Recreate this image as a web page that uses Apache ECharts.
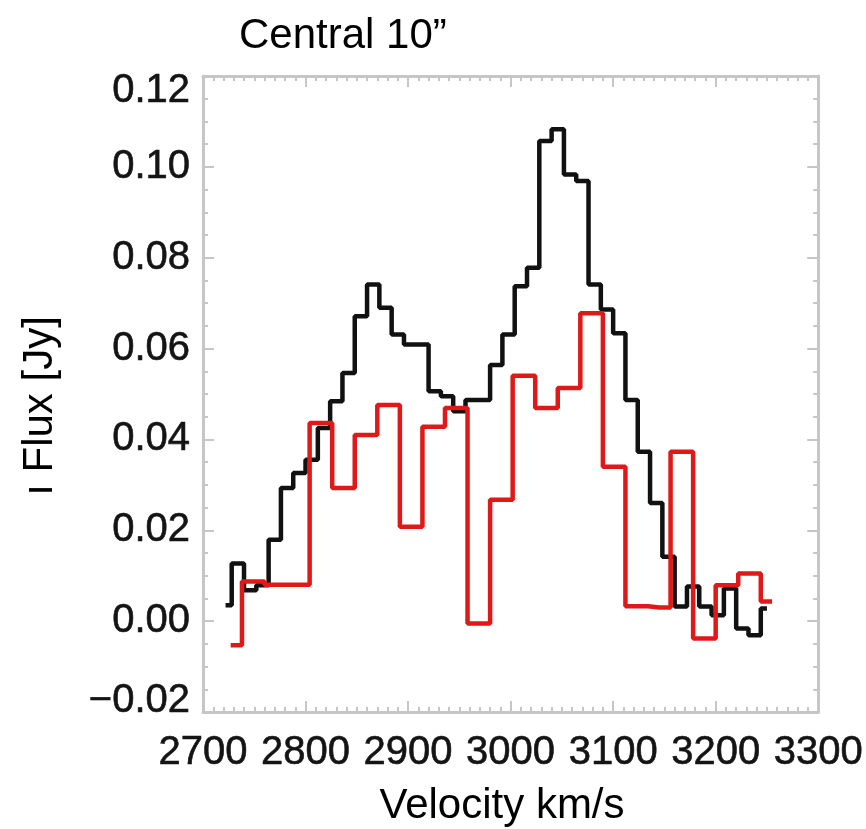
<!DOCTYPE html>
<html>
<head>
<meta charset="utf-8">
<script src="https://cdn.jsdelivr.net/npm/echarts@6/dist/echarts.min.js"></script>
<style>
html,body{margin:0;padding:0;background:#fff;}
#chart{width:866px;height:829px;}
</style>
</head>
<body>
<div id="chart"></div>
<script>
// ---- data ----
var titleText = 'Central 10\u201d';
var xAxisName = 'Velocity km/s';
var yAxisName = '\u0131 Flux [Jy]';
var xTicks = [2700, 2800, 2900, 3000, 3100, 3200, 3300];
var yTicks = [-0.02, 0.00, 0.02, 0.04, 0.06, 0.08, 0.10, 0.12];

var blackVel = [2722,2734,2746,2758,2770,2782,2794,2806,2818,2830,2842,2854,2866,2878,2890,2902,2914,2926,2938,2950,2962,2974,2986,2998,3010,3022,3034,3046,3058,3070,3082,3094,3106,3118,3130,3142,3154,3166,3178,3190,3202,3214,3226,3238,3250];
var blackFlux = [0.0035,0.0127,0.0068,0.0079,0.0179,0.0293,0.0326,0.0355,0.0425,0.0484,0.0546,0.0671,0.0741,0.0690,0.0631,0.0609,0.0609,0.0506,0.0495,0.0462,0.0487,0.0487,0.0564,0.0631,0.0737,0.0778,0.1057,0.1083,0.0983,0.0969,0.0741,0.0686,0.0634,0.0487,0.0373,0.0260,0.0142,0.0032,0.0076,0.0032,0.0013,0.0072,-0.0016,-0.0031,0.0028];

var redVel = [2727,2749,2771,2793,2815,2837,2859,2881,2903,2925,2947,2969,2991,3013,3035,3057,3079,3101,3123,3145,3167,3189,3211,3233,3255];
var redFlux = [-0.0053,0.0087,0.0080,0.0080,0.0436,0.0293,0.0410,0.0476,0.0208,0.0428,0.0469,-0.0005,0.0267,0.0540,0.0469,0.0513,0.0678,0.0340,0.0033,0.0030,0.0373,-0.0038,0.0079,0.0105,0.0043];

function pairs(xs, ys){ return xs.map(function(x,i){ return [x, ys[i]]; }); }

var FONT = '"Liberation Sans", Arial, Helvetica, sans-serif';
var AXIS_GRAY = '#c6c6c6';
var LABEL_COLOR = '#141414';

var chart = echarts.init(document.getElementById('chart'), null, {renderer:'canvas'});

function xAx(pos, showLabel){
  return {
    type:'value', position:pos, min:xTicks[0], max:xTicks[xTicks.length-1], interval:100,
    axisLine:{show:true, onZero:false, lineStyle:{color:AXIS_GRAY, width:3}},
    axisTick:{show:true, inside:true, length:11, lineStyle:{color:AXIS_GRAY, width:2}},
    minorTick:{show:true, splitNumber:10, length:5, lineStyle:{color:AXIS_GRAY, width:2}},
    splitLine:{show:false},
    axisLabel:{show:showLabel, margin:21, color:LABEL_COLOR, fontFamily:FONT, fontSize:40,
      textBorderColor:LABEL_COLOR, textBorderWidth:0.6,
      formatter:function(v){ return String(v); }}
  };
}
var yMin = yTicks[0], yMax = yTicks[yTicks.length-1];
function yAx(pos, showLabel){
  var rs = {fontFamily:FONT, fontSize:40, color:LABEL_COLOR, textBorderColor:LABEL_COLOR, textBorderWidth:0.6};
  return {
    type:'value', position:pos, min:yMin, max:yMax, interval:0.02,
    axisLine:{show:true, onZero:false, lineStyle:{color:AXIS_GRAY, width:3}},
    axisTick:{show:true, inside:true, length:11, lineStyle:{color:AXIS_GRAY, width:2}},
    minorTick:{show:true, splitNumber:4, length:5, lineStyle:{color:AXIS_GRAY, width:2}},
    splitLine:{show:false},
    axisLabel:{show:showLabel, margin:13, color:LABEL_COLOR, fontFamily:FONT, fontSize:40,
      textBorderColor:LABEL_COLOR, textBorderWidth:0.6,
      rich:{
        n: rs,
        lo: Object.assign({}, rs, {padding:[0,0,22,0]}),
        hi: Object.assign({}, rs, {padding:[30,0,0,0]})
      },
      formatter:function(v){
        var s = (v < -1e-9 ? '\u2212' : '') + Math.abs(v).toFixed(2);
        if (Math.abs(v - yMin) < 1e-9) return '{lo|' + s + '}';
        if (Math.abs(v - yMax) < 1e-9) return '{hi|' + s + '}';
        return '{n|' + s + '}';
      }}
  };
}

var option = {
  backgroundColor:'#ffffff',
  animation:false,
  grid:{left:203, top:76, width:617, height:636, containLabel:false},
  xAxis:[xAx('bottom', true), xAx('top', false)],
  yAxis:[yAx('left', true), yAx('right', false)],
  series:[
    {type:'line', step:'middle', xAxisIndex:0, yAxisIndex:0, data:pairs(blackVel, blackFlux),
      showSymbol:false, symbol:'none', lineStyle:{color:'#111111', width:4.5}, z:2},
    {type:'line', step:'middle', xAxisIndex:0, yAxisIndex:0, data:pairs(redVel, redFlux),
      showSymbol:false, symbol:'none', lineStyle:{color:'#e01818', width:4.5}, z:3}
  ],
  graphic:[
    {type:'text', x:239, y:36, style:{text:titleText, font:'42px '+FONT, fill:'#000', align:'left', verticalAlign:'middle'}},
    {type:'text', x:502, y:806, style:{text:xAxisName, font:'42px '+FONT, fill:'#000', align:'center', verticalAlign:'middle'}},
    {type:'text', x:40, y:406, rotation:Math.PI/2, style:{text:yAxisName, font:'42px '+FONT, fill:'#000', align:'center', verticalAlign:'middle'}}
  ]
};
chart.setOption(option);
</script>
</body>
</html>
